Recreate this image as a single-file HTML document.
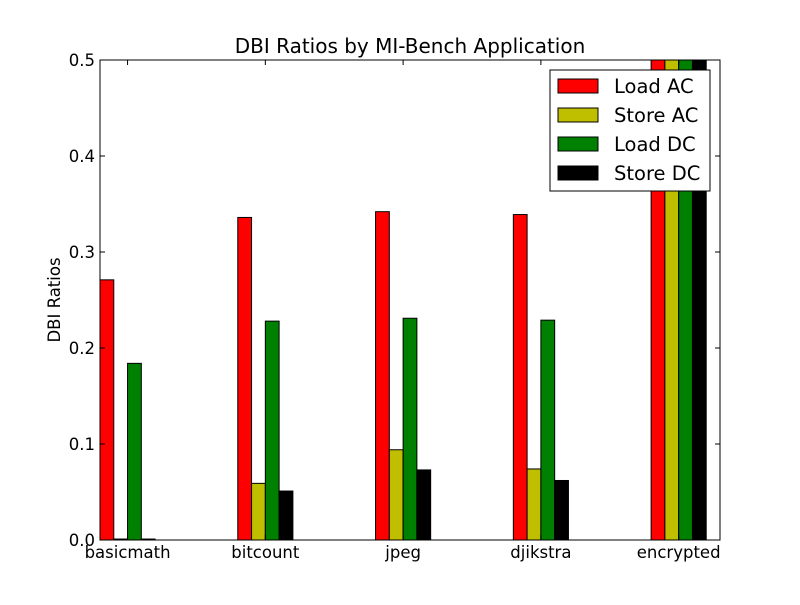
<!DOCTYPE html>
<html><head><meta charset="utf-8"><style>body{margin:0;background:#fff}text{font-family:"DejaVu Sans","Liberation Sans",sans-serif}</style></head>
<body>
<svg id="chart" width="800" height="600">
<rect width="800" height="600" fill="#fff"/>
<g id="marks"></g>
<rect x="100" y="60" width="620" height="480" fill="none" stroke="#000" stroke-width="1"/>
<g id="axes"></g>
<text x="410" y="53" text-anchor="middle" font-size="20">DBI Ratios by MI-Bench Application</text>
<text transform="translate(60,300) rotate(-90)" text-anchor="middle" font-size="16.5">DBI Ratios</text>
<g id="legend"></g>
</svg>
<script>
const categories=["basicmath","bitcount","jpeg","djikstra","encrypted"];
const seriesNames=["Load AC","Store AC","Load DC","Store DC"];
const loadAC=[0.271,0.336,0.342,0.339,0.6];
const storeAC=[0.001,0.059,0.094,0.074,0.6];
const loadDC=[0.184,0.228,0.231,0.229,0.6];
const storeDC=[0.001,0.051,0.073,0.062,0.6];
const yTicks=[0,0.1,0.2,0.3,0.4,0.5];
const yTickLabels=["0.0","0.1","0.2","0.3","0.4","0.5"];
const colors=["#ff0000","#bfbf00","#008000","#000000"];
const NS="http://www.w3.org/2000/svg";
const X0=100,X1=720,Y0=540,Y1=60;
const x=v=>X0+v*(X1-X0)/4.5;
const y=v=>Y0-v*(Y0-Y1)/0.5;
function mk(tag,attrs,parent,txt){const e=document.createElementNS(NS,tag);for(const k in attrs)e.setAttribute(k,attrs[k]);if(txt!==undefined)e.textContent=txt;parent.appendChild(e);return e;}
const marks=document.getElementById('marks'),axes=document.getElementById('axes'),leg=document.getElementById('legend');
const clip=mk('clipPath',{id:'pc'},marks);mk('rect',{x:X0,y:Y1,width:X1-X0,height:Y0-Y1},clip);
const g=mk('g',{'clip-path':'url(#pc)'},marks);
[loadAC,storeAC,loadDC,storeDC].forEach((s,si)=>{s.forEach((v,i)=>{
const r=mk('rect',{x:x(i+0.1*si),y:y(v),width:x(0.1)-x(0),height:y(0)-y(v),fill:colors[si],stroke:'#000','stroke-width':1},g);


});});
yTicks.forEach((t,i)=>{const yy=y(t);
mk('line',{x1:X0,x2:X0+5,y1:yy,y2:yy,stroke:'#000'},axes);
mk('line',{x1:X1,x2:X1-5,y1:yy,y2:yy,stroke:'#000'},axes);
const l=mk('text',{x:X0-5,y:yy+6,'text-anchor':'end','font-size':16.5},axes,yTickLabels[i]);


});
categories.forEach((c,i)=>{const xx=x(i+0.2);
mk('line',{x1:xx,x2:xx,y1:Y0,y2:Y0-5,stroke:'#000'},axes);
mk('line',{x1:xx,x2:xx,y1:Y1,y2:Y1+5,stroke:'#000'},axes);
const l=mk('text',{x:xx,y:Y0+18,'text-anchor':'middle','font-size':16.5},axes,c);


});
mk('rect',{x:550,y:70,width:160,height:121,fill:'#fff',stroke:'#000'},leg);
seriesNames.forEach((n,i)=>{const yy=86+i*29;
const p=mk('rect',{x:558,y:yy-7,width:40,height:14,fill:colors[i],stroke:'#000'},leg);


const t=mk('text',{x:614,y:yy+7,'font-size':19.5},leg,n);


});
</script>
</body></html>
